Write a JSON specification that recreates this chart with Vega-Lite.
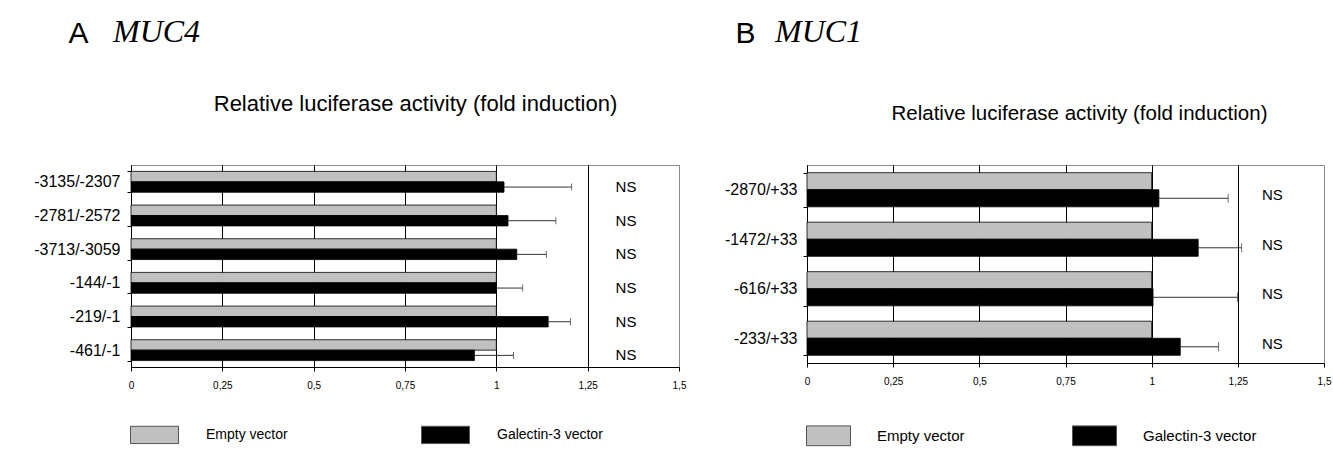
{
  "$schema": "https://vega.github.io/schema/vega-lite/v6.json",
  "autosize": {"type": "none"},
  "padding": {"left": 131, "top": 165, "right": 1202, "bottom": 285},
  "background": "white",
  "bounds": "flush",
  "spacing": 128,
  "config": {
    "font": "Liberation Sans",
    "view": {"stroke": "#8a8a8a", "strokeWidth": 1},
    "axis": {"labelFont": "Liberation Sans", "titleFont": "Liberation Sans", "labelColor": "#000", "titleColor": "#000", "domainColor": "#000", "tickColor": "#000", "titleFontWeight": "normal"},
    "legend": {"labelFont": "Liberation Sans", "labelColor": "#000"},
    "title": {"color": "#000"}
  },
  "datasets": {
    "muc4": [
      {"construct": "-3135/-2307", "series": "Empty vector", "value": 1.0, "upper": null, "sig": ""},
      {"construct": "-3135/-2307", "series": "Galectin-3 vector", "value": 1.021, "upper": 1.206, "sig": "NS"},
      {"construct": "-2781/-2572", "series": "Empty vector", "value": 1.0, "upper": null, "sig": ""},
      {"construct": "-2781/-2572", "series": "Galectin-3 vector", "value": 1.032, "upper": 1.163, "sig": "NS"},
      {"construct": "-3713/-3059", "series": "Empty vector", "value": 1.0, "upper": null, "sig": ""},
      {"construct": "-3713/-3059", "series": "Galectin-3 vector", "value": 1.056, "upper": 1.137, "sig": "NS"},
      {"construct": "-144/-1", "series": "Empty vector", "value": 1.0, "upper": null, "sig": ""},
      {"construct": "-144/-1", "series": "Galectin-3 vector", "value": 1.0, "upper": 1.072, "sig": "NS"},
      {"construct": "-219/-1", "series": "Empty vector", "value": 1.0, "upper": null, "sig": ""},
      {"construct": "-219/-1", "series": "Galectin-3 vector", "value": 1.142, "upper": 1.203, "sig": "NS"},
      {"construct": "-461/-1", "series": "Empty vector", "value": 1.0, "upper": null, "sig": ""},
      {"construct": "-461/-1", "series": "Galectin-3 vector", "value": 0.94, "upper": 1.047, "sig": "NS"}
    ],
    "muc1": [
      {"construct": "-2870/+33", "series": "Empty vector", "value": 1.0, "upper": null, "sig": ""},
      {"construct": "-2870/+33", "series": "Galectin-3 vector", "value": 1.021, "upper": 1.222, "sig": "NS"},
      {"construct": "-1472/+33", "series": "Empty vector", "value": 1.0, "upper": null, "sig": ""},
      {"construct": "-1472/+33", "series": "Galectin-3 vector", "value": 1.135, "upper": 1.261, "sig": "NS"},
      {"construct": "-616/+33", "series": "Empty vector", "value": 1.0, "upper": null, "sig": ""},
      {"construct": "-616/+33", "series": "Galectin-3 vector", "value": 1.004, "upper": 1.249, "sig": "NS"},
      {"construct": "-233/+33", "series": "Empty vector", "value": 1.0, "upper": null, "sig": ""},
      {"construct": "-233/+33", "series": "Galectin-3 vector", "value": 1.083, "upper": 1.194, "sig": "NS"}
    ]
  },
  "hconcat": [
    {
      "width": 548,
      "height": 202,
      "data": {"name": "muc4"},
      "title": {"text": "MUC4", "font": "Liberation Serif", "fontStyle": "italic", "fontSize": 32, "fontWeight": "normal", "anchor": "start", "frame": "group", "dx": -18, "offset": -31},
      "layer": [
        {
          "mark": {"type": "bar", "stroke": "#000", "strokeWidth": 0.8},
          "encoding": {
            "y": {"field": "construct", "type": "nominal", "sort": null, "scale": {"paddingInner": 0.38, "paddingOuter": 0.19},
              "axis": {"title": "A", "titleAngle": 0, "titleFontSize": 30, "titleFontWeight": "normal", "titleAlign": "left", "titleBaseline": "alphabetic", "titleX": -63, "titleY": -123, "labelFontSize": 16, "tickBand": "extent", "tickSize": 4, "labelPadding": 7}},
            "yOffset": {"field": "series", "type": "nominal", "sort": ["Empty vector", "Galectin-3 vector"], "scale": {"paddingInner": 0}},
            "x": {"field": "value", "type": "quantitative", "scale": {"domain": [0, 1.5], "nice": false, "zero": true},
              "axis": {"orient": "bottom", "title": null, "values": [0, 0.25, 0.5, 0.75, 1, 1.25, 1.5], "labelExpr": "replace(toString(datum.value), '.', ',')", "labelFontSize": 10, "labelPadding": 9, "tickSize": 4, "labelFlush": false, "grid": true, "gridColor": {"condition": {"test": "datum.value == 1.5", "value": "#8a8a8a"}, "value": "#000"}, "gridOpacity": 1, "gridWidth": 1}},
            "color": {"field": "series", "type": "nominal", "sort": ["Empty vector", "Galectin-3 vector"],
              "scale": {"domain": ["Empty vector", "Galectin-3 vector"], "range": ["#c0c0c0", "#000000"]},
              "legend": {"title": null, "orient": "none", "legendX": -1, "legendY": 245, "direction": "horizontal", "symbolType": "M-1,-0.36H1V0.36H-1Z", "symbolSize": 2304, "symbolStrokeColor": "#555", "symbolStrokeWidth": 1, "labelFontSize": 14, "labelOffset": 27, "columnPadding": 131}}
          }
        },
        {
          "transform": [{"filter": "datum.upper != null"}],
          "mark": {"type": "rule", "color": "#333", "strokeWidth": 1},
          "encoding": {
            "y": {"field": "construct", "type": "nominal", "sort": null},
            "yOffset": {"field": "series", "type": "nominal", "sort": ["Empty vector", "Galectin-3 vector"]},
            "x": {"field": "value", "type": "quantitative",
              "axis": {"orient": "top", "title": "Relative luciferase activity (fold induction)", "titleFontSize": 22, "titleFontWeight": "normal", "titleX": 284, "titleY": -55, "titleAlign": "center", "titleBaseline": "alphabetic", "labels": false, "ticks": false, "domain": false, "grid": false}},
            "x2": {"field": "upper"}
          }
        },
        {
          "transform": [{"filter": "datum.upper != null"}],
          "mark": {"type": "tick", "color": "#333", "thickness": 1, "size": 7},
          "encoding": {
            "y": {"field": "construct", "type": "nominal", "sort": null},
            "yOffset": {"field": "series", "type": "nominal", "sort": ["Empty vector", "Galectin-3 vector"]},
            "x": {"field": "upper", "type": "quantitative", "axis": null}
          }
        },
        {
          "transform": [{"filter": "datum.sig == 'NS'"}],
          "mark": {"type": "text", "fontSize": 15, "align": "center", "baseline": "middle", "color": "#000"},
          "encoding": {
            "y": {"field": "construct", "type": "nominal", "sort": null},
            "yOffset": {"field": "series", "type": "nominal", "sort": ["Empty vector", "Galectin-3 vector"]},
            "x": {"datum": 1.355, "type": "quantitative", "axis": null},
            "text": {"field": "sig"}
          }
        }
      ],
      "resolve": {"axis": {"x": "independent"}}
    },
    {
      "width": 517,
      "height": 198,
      "data": {"name": "muc1"},
      "title": {"text": "MUC1", "font": "Liberation Serif", "fontStyle": "italic", "fontSize": 32, "fontWeight": "normal", "anchor": "start", "frame": "group", "dx": -32, "offset": -31},
      "layer": [
        {
          "mark": {"type": "bar", "stroke": "#000", "strokeWidth": 0.8},
          "encoding": {
            "y": {"field": "construct", "type": "nominal", "sort": null, "scale": {"paddingInner": 0.31, "paddingOuter": 0.155},
              "axis": {"title": "B", "titleAngle": 0, "titleFontSize": 30, "titleFontWeight": "normal", "titleAlign": "left", "titleBaseline": "alphabetic", "titleX": -72, "titleY": -123, "labelFontSize": 16, "tickBand": "extent", "tickSize": 4, "labelPadding": 6}},
            "yOffset": {"field": "series", "type": "nominal", "sort": ["Empty vector", "Galectin-3 vector"], "scale": {"paddingInner": 0}},
            "x": {"field": "value", "type": "quantitative", "scale": {"domain": [0, 1.5], "nice": false, "zero": true},
              "axis": {"orient": "bottom", "title": null, "values": [0, 0.25, 0.5, 0.75, 1, 1.25, 1.5], "labelExpr": "replace(toString(datum.value), '.', ',')", "labelFontSize": 10, "labelPadding": 9, "tickSize": 4, "labelFlush": false, "grid": true, "gridColor": {"condition": {"test": "datum.value == 1.5", "value": "#8a8a8a"}, "value": "#000"}, "gridOpacity": 1, "gridWidth": 1}},
            "color": {"field": "series", "type": "nominal", "sort": ["Empty vector", "Galectin-3 vector"],
              "scale": {"domain": ["Empty vector", "Galectin-3 vector"], "range": ["#c0c0c0", "#000000"]},
              "legend": {"title": null, "orient": "none", "legendX": -1, "legendY": 248, "direction": "horizontal", "symbolType": "M-1,-0.45H1V0.45H-1Z", "symbolSize": 1936, "symbolStrokeColor": "#555", "symbolStrokeWidth": 1, "labelFontSize": 15, "labelOffset": 26, "columnPadding": 105}}
          }
        },
        {
          "transform": [{"filter": "datum.upper != null"}],
          "mark": {"type": "rule", "color": "#333", "strokeWidth": 1},
          "encoding": {
            "y": {"field": "construct", "type": "nominal", "sort": null},
            "yOffset": {"field": "series", "type": "nominal", "sort": ["Empty vector", "Galectin-3 vector"]},
            "x": {"field": "value", "type": "quantitative",
              "axis": {"orient": "top", "title": "Relative luciferase activity (fold induction)", "titleFontSize": 20.5, "titleFontWeight": "normal", "titleX": 272, "titleY": -46, "titleAlign": "center", "titleBaseline": "alphabetic", "labels": false, "ticks": false, "domain": false, "grid": false}},
            "x2": {"field": "upper"}
          }
        },
        {
          "transform": [{"filter": "datum.upper != null"}],
          "mark": {"type": "tick", "color": "#333", "thickness": 1, "size": 9},
          "encoding": {
            "y": {"field": "construct", "type": "nominal", "sort": null},
            "yOffset": {"field": "series", "type": "nominal", "sort": ["Empty vector", "Galectin-3 vector"]},
            "x": {"field": "upper", "type": "quantitative", "axis": null}
          }
        },
        {
          "transform": [{"filter": "datum.sig == 'NS'"}],
          "mark": {"type": "text", "fontSize": 15, "align": "center", "baseline": "middle", "color": "#000", "dy": -3},
          "encoding": {
            "y": {"field": "construct", "type": "nominal", "sort": null},
            "yOffset": {"field": "series", "type": "nominal", "sort": ["Empty vector", "Galectin-3 vector"]},
            "x": {"datum": 1.35, "type": "quantitative", "axis": null},
            "text": {"field": "sig"}
          }
        }
      ],
      "resolve": {"axis": {"x": "independent"}}
    }
  ],
  "resolve": {"scale": {"color": "independent", "x": "independent", "y": "independent", "yOffset": "independent"}, "legend": {"color": "independent"}}
}
